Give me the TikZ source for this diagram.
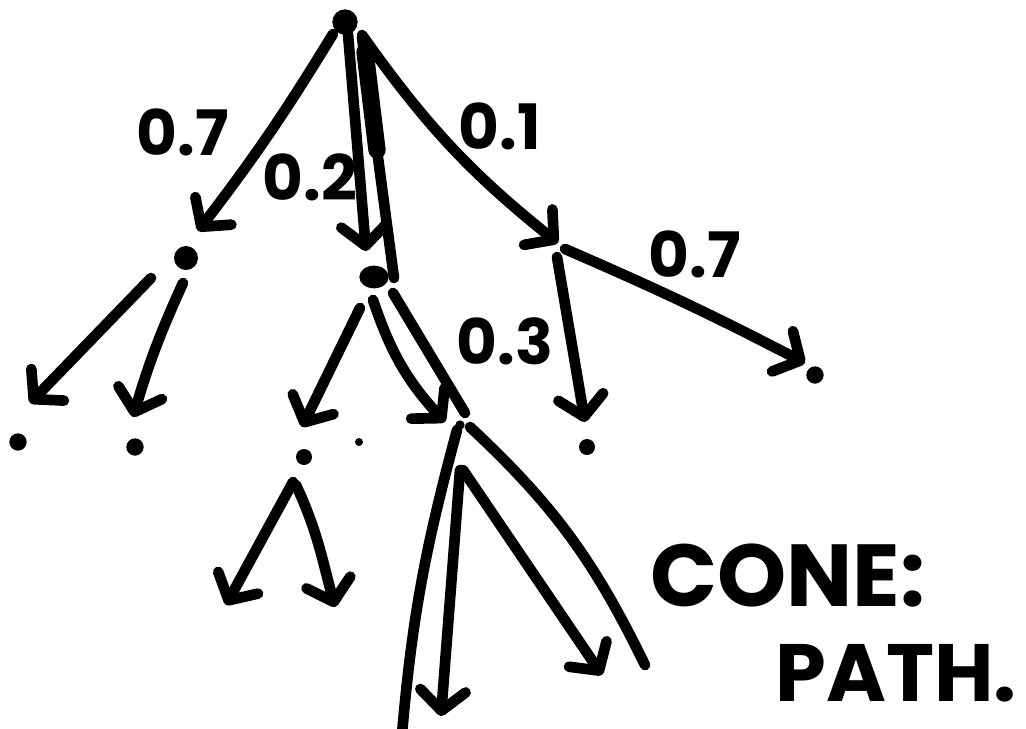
\documentclass[tikz,border=0pt]{standalone}
\usepackage{fontspec}
\setmainfont{Poppins}
\usetikzlibrary{arrows.meta, shapes.geometric}

\tikzset{
  ink/.style={line width=8pt, line cap=round, line join=round},
  arr/.style={ink, -{Straight Barb[round, length=15pt, width=34pt]}},
  blob/.style={circle, fill, inner sep=0pt, minimum size=#1},
  prob/.style={font=\fontsize{47}{47}\selectfont\bfseries, inner sep=0pt},
  note/.style={font=\fontsize{#1}{#1}\selectfont\bfseries, inner sep=0pt}
}

\begin{document}
\begin{tikzpicture}[x=0.75pt, y=-0.75pt]
  \useasboundingbox (0,0) rectangle (1026,729);

  % tree nodes
  \node[blob=19pt] (root) at (345,22) {};
  \node[blob=18pt] (A)  at (186,258) {};
  \node[ellipse, fill, inner sep=0pt, minimum width=22pt, minimum height=17pt] (B) at (374,277) {};
  \coordinate (C) at (560,245);
  \node[blob=7pt] (D) at (460,425) {};
  \node[blob=13pt] (A1) at (18,442) {};
  \node[blob=13pt] (A2) at (135,447) {};
  \node[blob=12pt] (B1) at (304,457) {};
  \node[blob=6pt]  (Bx) at (359,442) {};
  \node[blob=12pt] (C1) at (587,447) {};
  \node[blob=13pt] (C2) at (815,375) {};

  % free ends below the lower branches
  \coordinate (E1) at (226,605);
  \coordinate (E2) at (335,607);
  \coordinate (F1) at (402,734);
  \coordinate (F2) at (441,716);
  \coordinate (F3) at (602,675);
  \coordinate (F4) at (645,665);

  % edges out of the root
  \draw[arr] ([shift={(-12,12)}]root.center) to[bend left=3] ([shift={(12,-27)}]A.center);
  \draw[arr] ([shift={(3,12)}]root.center) to ([shift={(-8,-26)}]B.center);
  \draw[ink] ([shift={(17,15)}]root.center) to ([shift={(20,1)}]B.center);
  \draw[ink, line width=13pt] ([shift={(20,30)}]root.center) to ([shift={(3,-127)}]B.center);
  \draw[arr] ([shift={(17,13)}]root.center) to[bend right=8] ([shift={(-2,-2)}]C);

  % second level
  \draw[arr] ([shift={(-35,20)}]A.center) -- ([shift={(12,-39)}]A1.center);
  \draw[arr] ([shift={(-3,25)}]A.center) to[bend right=4] ([shift={(-2,-30)}]A2.center);
  \draw[arr] ([shift={(-14,31)}]B.center) -- ([shift={(-2,-30)}]B1.center);
  \draw[arr] ([shift={(-1,23)}]B.center) to[bend right=12] ([shift={(-15,-3)}]D.center);
  \draw[ink] ([shift={(19,16)}]B.center) -- ([shift={(5,-12)}]D.center);
  \draw[arr] ([shift={(-3,12)}]C) -- ([shift={(-2,-25)}]C1.center);
  \draw[arr] ([shift={(5,4)}]C) to[bend left=2] ([shift={(-10,-12)}]C2.center);

  % third level
  \draw[arr] ([shift={(-11,25)}]B1.center) -- (E1);
  \draw[arr] ([shift={(-8,28)}]B1.center) to[out=-65, in=105] (E2);

  % the cone below D
  \draw[ink] ([shift={(-3,5)}]D.center) to[out=-105, in=85] (F1);
  \draw[arr] ([shift={(0,45)}]D.center) -- (F2);
  \draw[arr] ([shift={(3,45)}]D.center) -- (F3);
  \draw[ink] ([shift={(10,2)}]D.center) to[out=-43, in=116] (F4);

  % branch probabilities
  \node[prob] (p1) at (183,132) {0.7};
  \node[prob] (p2) at (310,177) {0.2};
  \node[prob] (p3) at (500,126) {0.1};
  \node[prob] (p4) at (695,254) {0.7};
  \node[prob] (p5) at (505,341) {0.3};

  % note
  \node[note=66] (n1) at (788,576) {CONE:};
  \node[note=61] (n2) at (896,673) {PATH.};
\end{tikzpicture}
\end{document}
